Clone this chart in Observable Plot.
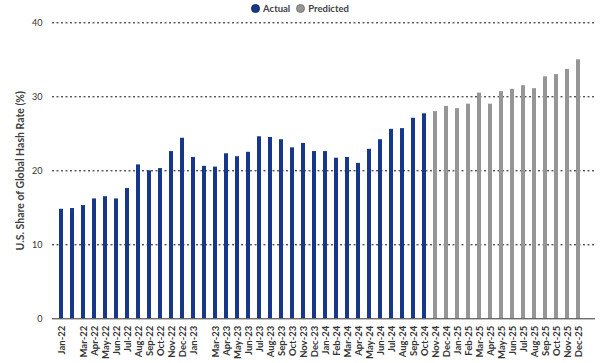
<!DOCTYPE html>
<html>
<head>
<meta charset="utf-8">
<script src="https://cdn.jsdelivr.net/npm/d3@7"></script>
<script src="https://cdn.jsdelivr.net/npm/@observablehq/plot@0.6"></script>
<style>
  html, body { margin: 0; padding: 0; background: #fff; }
  body { width: 600px; height: 363px; overflow: hidden; font-family: Lato, "Noto Sans", sans-serif; }
  #legend { height: 16px; display: flex; justify-content: center; align-items: center; font-size: 9.5px; font-weight: 700; color: #404040; }
  #legend .item { display: flex; align-items: center; margin: 0 3px; }
  #legend .sw { width: 9px; height: 9px; border-radius: 50%; margin-right: 3px; box-sizing: border-box; }
</style>
</head>
<body>
<div id="legend"></div>
<div id="chart"></div>
<script>
const actualMonths = ["Jan-22","Feb-22","Mar-22","Apr-22","May-22","Jun-22","Jul-22","Aug-22","Sep-22","Oct-22","Nov-22","Dec-22",
  "Jan-23","Feb-23","Mar-23","Apr-23","May-23","Jun-23","Jul-23","Aug-23","Sep-23","Oct-23","Nov-23","Dec-23",
  "Jan-24","Feb-24","Mar-24","Apr-24","May-24","Jun-24","Jul-24","Aug-24","Sep-24","Oct-24"];
const actualValues = [14.8,14.9,15.3,16.2,16.5,16.2,17.6,20.8,20.0,20.3,22.6,24.4,
  21.8,20.6,20.5,22.3,21.9,22.5,24.6,24.5,24.2,23.1,23.7,22.6,
  22.6,21.7,21.8,21.0,22.9,24.2,25.6,25.7,27.1,27.7];
const predictedMonths = ["Nov-24","Dec-24","Jan-25","Feb-25","Mar-25","Apr-25","May-25","Jun-25","Jul-25","Aug-25","Sep-25","Oct-25","Nov-25","Dec-25"];
const predictedValues = [28.0,28.7,28.4,29.0,30.5,29.0,30.7,31.0,31.5,31.1,32.7,33.0,33.7,35.0];
const hiddenLabels = ["Feb-22","Feb-23"];
const yTicks = [0,10,20,30,40];
const seriesNames = ["Actual","Predicted"];
const seriesColors = ["#17378a","#969696"];

const data = [
  ...actualMonths.map((m,i) => ({month: m, value: actualValues[i], series: "Actual"})),
  ...predictedMonths.map((m,i) => ({month: m, value: predictedValues[i], series: "Predicted"}))
];
const allMonths = [...actualMonths, ...predictedMonths];

// legend
const legend = document.getElementById("legend");
seriesNames.forEach((s,i) => {
  const it = document.createElement("div"); it.className = "item";
  const sw = document.createElement("span"); sw.className = "sw"; sw.style.background = seriesColors[i];
  sw.style.border = "1px solid " + (i === 0 ? "#0e2868" : "#7a7a7a");
  const t = document.createElement("span"); t.textContent = s;
  it.appendChild(sw); it.appendChild(t); legend.appendChild(it);
});

const W = 600, H = 347;
const chart = Plot.plot({
  width: W, height: H,
  marginLeft: 52, marginRight: 5, marginTop: 6.3, marginBottom: 44.7,
  style: {fontFamily: "Lato, 'Noto Sans', sans-serif", color: "#333", background: "#fff"},
  x: {domain: allMonths, range: [47, 591.7], padding: 0.6, label: null},
  y: {domain: [0, 40], label: null},
  color: {domain: seriesNames, range: seriesColors},
  marks: [
    Plot.ruleY(yTicks.filter(d => d > 0), {stroke: "#111", strokeWidth: 1, strokeDasharray: "2,2.5"}),
    Plot.barY(data, {x: "month", y: "value", fill: "series"}),
    Plot.ruleY([0], {stroke: "#333", strokeWidth: 1}),
    Plot.axisY({ticks: yTicks, tickSize: 0, tickPadding: 10, fontSize: 9, label: "U.S. Share of Global Hash Rate (%)", labelAnchor: "center", labelArrow: "none", labelOffset: 36}),
    Plot.axisX({tickSize: 0, tickPadding: 7, tickRotate: -90, fontSize: 9.5, fontWeight: "bold", tickFormat: d => hiddenLabels.includes(d) ? "" : d, label: null})
  ]
});
document.getElementById("chart").appendChild(chart);
chart.querySelectorAll("g[aria-label='y-axis label'] text").forEach(t => {
  t.setAttribute("font-weight", "bold"); t.setAttribute("font-size", "10.5"); t.setAttribute("fill", "#404040");
});
</script>
</body>
</html>
